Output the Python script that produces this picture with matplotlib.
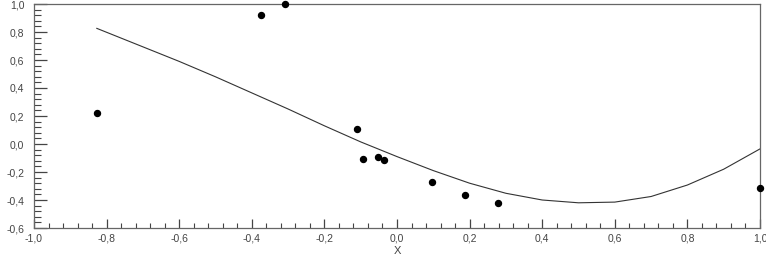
import matplotlib
matplotlib.use("Agg")
import matplotlib.pyplot as plt
from matplotlib.ticker import MultipleLocator, FuncFormatter

plt.rcParams['font.family'] = ['Liberation Sans', 'DejaVu Sans']

# Observed points
pts_x = [-0.827, -0.375, -0.309, -0.109, -0.094, -0.052, -0.035, 0.096, 0.187, 0.279, 1.0]
pts_y = [0.224, 0.92, 1.0, 0.105, -0.105, -0.09, -0.117, -0.274, -0.362, -0.421, -0.312]

# Fitted curve
curve_x = [-0.827, -0.7, -0.6, -0.5, -0.4, -0.3, -0.2, -0.1, 0.0, 0.1, 0.2,
           0.3, 0.4, 0.5, 0.6, 0.7, 0.8, 0.9, 1.0]
curve_y = [0.826, 0.694, 0.59, 0.48, 0.365, 0.25, 0.13, 0.015, -0.09, -0.19, -0.28,
           -0.352, -0.40, -0.42, -0.415, -0.375, -0.293, -0.18, -0.035]

x_label = "X"

fig = plt.figure(figsize=(7.66, 2.6), dpi=100)
ax = fig.add_axes([34/766, 1-228/260, (760-34)/766, (228-4)/260])

ax.plot(curve_x, curve_y, color="#333333", lw=0.8, zorder=2)
ax.plot(pts_x, pts_y, linestyle="none", marker="o", color="black",
        markersize=4.3, zorder=3, clip_on=False)

ax.set_xlim(-1.0, 1.0)
ax.set_ylim(-0.6, 1.0)

fmt = FuncFormatter(lambda v, p: f"{v:.1f}".replace(".", ",").replace("-0,0", "0,0"))
ax.xaxis.set_major_locator(MultipleLocator(0.2))
ax.xaxis.set_minor_locator(MultipleLocator(0.04))
ax.yaxis.set_major_locator(MultipleLocator(0.2))
ax.yaxis.set_minor_locator(MultipleLocator(0.04))
ax.xaxis.set_major_formatter(fmt)
ax.yaxis.set_major_formatter(fmt)

tc = "#444444"
ax.tick_params(axis="x", which="major", direction="in", length=6.5, width=0.9,
               color=tc, labelsize=7.5, labelcolor=tc, pad=4)
ax.tick_params(axis="x", which="minor", direction="in", length=3.5, width=0.8, color=tc)
ax.tick_params(axis="y", which="major", direction="in", length=9.5, width=0.9,
               color=tc, labelsize=7.5, labelcolor=tc, pad=7)
ax.tick_params(axis="y", which="minor", direction="in", length=5, width=0.8, color=tc)

for s in ax.spines.values():
    s.set_color("#666666")
    s.set_linewidth(0.9)

ax.set_xlabel(x_label, fontsize=8, color=tc, labelpad=2)

fig.savefig("out.png", dpi=100)
